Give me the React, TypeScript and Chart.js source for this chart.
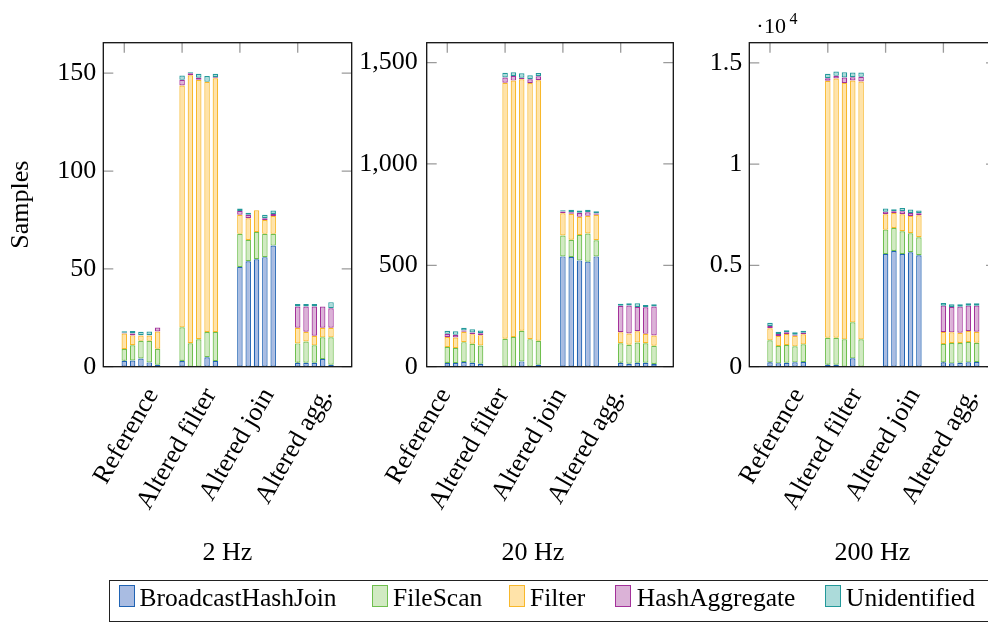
import React, { useEffect, useRef } from "react";
import { Chart, registerables } from "chart.js";

Chart.register(...registerables);

const FONT_FAMILY = '"Liberation Serif", "Times New Roman", serif';

// ---------------- data ----------------
const categories = ["Reference", "Altered filter", "Altered join", "Altered agg."];
const segmentNames = ["BroadcastHashJoin", "FileScan", "Filter", "HashAggregate", "Unidentified"];
const panelTitles = ["2 Hz", "20 Hz", "200 Hz"];

// each array: [category][run 1..5]
const hz2BroadcastHashJoin = [[3, 3.2, 4.2, 2.2, 1], [2.9, 0, 0, 4.8, 2.9], [51, 53.9, 54.9, 56, 61.9], [2, 2, 2, 3.9, 1]];
const hz2FileScan = [[6, 7.8, 9, 11, 8.2], [17.2, 12, 14, 12.9, 14.8], [16.9, 10.9, 14, 11.9, 6], [9.9, 10.9, 8.9, 11.1, 14]];
const hz2Filter = [[8, 5, 2.7, 2.7, 8.8], [123.6, 137, 132.7, 127.9, 129.7], [9.8, 11.1, 11, 7.1, 9.1], [8, 5, 4.9, 4.9, 4.9]];
const hz2HashAggregate = [[0.3, 1, 0.2, 0.2, 2], [2.9, 1, 1, 0, 0.6], [1.9, 1.8, 0, 0.9, 1.1], [10.9, 12.9, 15, 10.9, 10]];
const hz2Unidentified = [[0.8, 1.2, 1.8, 1.9, 0], [2.2, 0.5, 2, 3, 1.7], [1.2, 1, 0, 1.8, 1.7], [1.2, 1.2, 1.2, 0, 3.1]];

const hz20BroadcastHashJoin = [[18, 18, 23, 19.7, 14.7], [0, 0, 26.2, 0, 9.8], [544, 540.8, 524.4, 518, 544], [19.7, 14.7, 19.7, 19.7, 13]];
const hz20FileScan = [[78.7, 73.8, 98, 93.3, 90.2], [137.7, 146, 150.8, 136, 118], [103, 85.2, 124.6, 139, 80], [96.3, 93.3, 99.9, 96.3, 90]];
const hz20Filter = [[49.2, 52.2, 51, 47.6, 50.8], [1263, 1265, 1240.6, 1263.5, 1284.8], [110, 127.8, 90, 87, 125], [54, 56, 55.4, 46, 51]];
const hz20HashAggregate = [[16.1, 13, 6.6, 8.2, 9.8], [26, 23, 8.1, 18, 19.7], [8, 8.2, 19.8, 18, 6.5], [130, 137.5, 120, 131, 142.6]];
const hz20Unidentified = [[15, 18, 13.1, 16.2, 13.1], [23, 18, 21.3, 19.7, 16.4], [6.9, 11.5, 11.5, 11.5, 11.5], [11, 11.5, 18, 11.8, 11.4]];

const hz200BroadcastHashJoin = [[214, 165, 198, 214, 231], [99, 99, 0, 412, 0], [5567, 5715, 5567, 5649, 5501], [214, 165, 198, 214, 231]];
const hz200FileScan = [[1087, 856, 872, 791, 872], [1334, 1334, 1351, 1779, 1351], [1202, 1137, 1120, 939, 889], [906, 1004, 971, 1005, 955]];
const hz200Filter = [[593, 494, 544, 527, 495], [12682, 12797, 12665, 11940, 12731], [758, 741, 840, 856, 1087], [593, 527, 511, 543, 543]];
const hz200HashAggregate = [[115, 99, 82, 49, 82], [132, 132, 264, 165, 231], [131, 82, 148, 149, 99], [1301, 1252, 1285, 1252, 1285]];
const hz200Unidentified = [[165, 115, 99, 115, 99], [214, 214, 263, 231, 214], [149, 99, 165, 164, 132], [132, 132, 115, 115, 115]];

const yTicks2Hz = [0, 50, 100, 150];
const yTickLabels2Hz = ["0", "50", "100", "150"];
const yTicks20Hz = [0, 500, 1000, 1500];
const yTickLabels20Hz = ["0", "500", "1,000", "1,500"];
const yTicks200Hz = [0, 5000, 10000, 15000];
const yTickLabels200Hz = ["0", "0.5", "1", "1.5"];
const xTickPositions = [0, 1, 2, 3];
const runCount = 5;

const panelData = [
  [hz2BroadcastHashJoin, hz2FileScan, hz2Filter, hz2HashAggregate, hz2Unidentified],
  [hz20BroadcastHashJoin, hz20FileScan, hz20Filter, hz20HashAggregate, hz20Unidentified],
  [hz200BroadcastHashJoin, hz200FileScan, hz200Filter, hz200HashAggregate, hz200Unidentified],
];
const panelYTicks = [yTicks2Hz, yTicks20Hz, yTicks200Hz];
const panelYTickLabels = [yTickLabels2Hz, yTickLabels20Hz, yTickLabels200Hz];

// ---------------- styles / layout ----------------
const STROKE = ["#2063b3", "#6fbf4e", "#f8b82b", "#a3319a", "#23999a"];
const FILL = ["#a9bce2", "#d1eac2", "#ffe3a9", "#dbb2d7", "#acdbda"];

const CANVAS_W = 1040;
const CANVAS_H = 580;
const PLOT_TOP = 42.7;
const PLOT_BOTTOM = 366.7;
const XAXIS_BOTTOM = 566.8;
const GROUP_SHIFT = 0.288;
const TICK_LEN = 10;
const FONT_SIZE = 26;

const panelLayouts = [
  { left: 103.3, right: 351.7, xMin: -0.363, xMax: 3.934, yMax: 165.6, labelShift: 0.495, tickPad: 7, titleX: 227.5, yAxisWidth: 103.3 },
  { left: 426.7, right: 673.3, xMin: -0.356, xMax: 3.91, yMax: 1598, labelShift: -0.035, tickPad: 9, titleX: 533, yAxisWidth: 100 },
  { left: 749.3, right: 996, xMin: -0.358, xMax: 3.91, yMax: 16000, labelShift: 0.5, tickPad: 7, titleX: 872.5, yAxisWidth: 100 },
];

const legendBoxX = [118.7, 371.8, 508.8, 615, 824.8];
const legendTextX = [139.6, 393, 530, 636.8, 846];

function makeFramePlugin(idx: number) {
  const lay = panelLayouts[idx];
  return {
    id: "frame" + idx,
    beforeDatasetsDraw(chart: any) {
      const { ctx, chartArea: a } = chart;
      const xs = chart.scales.x;
      const ys = chart.scales.y;
      ctx.save();
      ctx.strokeStyle = "#9b9b9b";
      ctx.lineWidth = 1.3;
      ctx.beginPath();
      for (const v of xTickPositions) {
        const p = xs.getPixelForValue(v);
        ctx.moveTo(p, a.top);
        ctx.lineTo(p, a.top + TICK_LEN);
        ctx.moveTo(p, a.bottom);
        ctx.lineTo(p, a.bottom - TICK_LEN);
      }
      for (const v of panelYTicks[idx]) {
        const p = ys.getPixelForValue(v);
        ctx.moveTo(a.left, p);
        ctx.lineTo(a.left + TICK_LEN, p);
        ctx.moveTo(a.right, p);
        ctx.lineTo(a.right - TICK_LEN, p);
      }
      ctx.stroke();
      ctx.restore();
    },
    afterDraw(chart: any) {
      const { ctx, chartArea: a } = chart;
      ctx.save();
      ctx.strokeStyle = "#111";
      ctx.lineWidth = 1.3;
      ctx.strokeRect(a.left, a.top, a.right - a.left, a.bottom - a.top);
      ctx.fillStyle = "#000";
      ctx.textBaseline = "alphabetic";
      ctx.textAlign = "center";
      ctx.font = `${FONT_SIZE}px ${FONT_FAMILY}`;
      ctx.fillText(panelTitles[idx], lay.titleX, 560);
      if (idx === 2) {
        ctx.font = `22px ${FONT_FAMILY}`;
        ctx.textAlign = "center";
        ctx.fillText("\u00B7", 760, 32.7);
        ctx.textAlign = "left";
        ctx.fillText("10", 764, 32.7);
        ctx.font = `16px ${FONT_FAMILY}`;
        ctx.fillText("4", 789.5, 23.5);
      }
      ctx.restore();
    },
  };
}

function buildChart(canvas: HTMLCanvasElement, idx: number) {
  const lay = panelLayouts[idx];
  const data = panelData[idx];
  const datasets: any[] = [];
  for (let r = 0; r < runCount; r++) {
    for (let s = 0; s < segmentNames.length; s++) {
      datasets.push({
        label: segmentNames[s],
        stack: "run" + r,
        data: categories.map((_, g) => ({ x: g + GROUP_SHIFT, y: data[s][g][r] })),
        backgroundColor: FILL[s],
        borderColor: STROKE[s],
        borderWidth: 1.2,
        borderSkipped: false,
        categoryPercentage: 0.72,
        barPercentage: 0.66,
      });
    }
  }
  const font = { family: FONT_FAMILY, size: FONT_SIZE };
  return new Chart(canvas, {
    type: "bar",
    data: { datasets },
    plugins: [makeFramePlugin(idx)],
    options: {
      responsive: false,
      animation: false,
      events: [],
      layout: {
        padding: {
          left: lay.left - lay.yAxisWidth,
          right: CANVAS_W - lay.right,
          top: PLOT_TOP,
          bottom: CANVAS_H - XAXIS_BOTTOM,
        },
      },
      plugins: { legend: { display: false }, tooltip: { enabled: false }, title: { display: false } },
      scales: {
        x: {
          type: "linear",
          min: lay.xMin,
          max: lay.xMax,
          offset: false,
          grid: { display: false, drawTicks: false },
          border: { display: false },
          afterBuildTicks: (s: any) => {
            s.ticks = xTickPositions.map((v) => ({ value: v + lay.labelShift }));
          },
          ticks: {
            autoSkip: false,
            minRotation: 60,
            maxRotation: 60,
            padding: 16,
            color: "#000",
            font,
            callback: (_v: any, i: number) => categories[i],
          },
          afterFit: (s: any) => {
            s.height = XAXIS_BOTTOM - PLOT_BOTTOM;
          },
        },
        y: {
          type: "linear",
          stacked: true,
          min: 0,
          max: lay.yMax,
          grid: { display: false, drawTicks: false },
          border: { display: false },
          afterBuildTicks: (s: any) => {
            s.ticks = panelYTicks[idx].map((v) => ({ value: v }));
          },
          ticks: {
            padding: lay.tickPad,
            color: "#000",
            font,
            callback: (_v: any, i: number) => panelYTickLabels[idx][i],
          },
          title: {
            display: idx === 0,
            text: "Samples",
            color: "#000",
            font,
            padding: { top: 6, bottom: 0 },
          },
          afterFit: (s: any) => {
            s.width = lay.yAxisWidth;
          },
        },
      },
    } as any,
  });
}

function PanelChart({ idx }: { idx: number }) {
  const ref = useRef<HTMLCanvasElement | null>(null);
  useEffect(() => {
    if (!ref.current) return;
    const chart = buildChart(ref.current, idx);
    return () => chart.destroy();
  }, [idx]);
  return (
    <canvas
      ref={ref}
      width={CANVAS_W}
      height={CANVAS_H}
      style={{ position: "absolute", left: 0, top: 0, width: CANVAS_W, height: CANVAS_H }}
    />
  );
}

function Legend() {
  return (
    <div>
      <div
        style={{
          position: "absolute",
          left: 108.5,
          top: 580,
          width: 900,
          height: 42,
          border: "1px solid #222",
          boxSizing: "border-box",
        }}
      />
      {segmentNames.map((name, i) => (
        <React.Fragment key={name}>
          <div
            style={{
              position: "absolute",
              left: legendBoxX[i],
              top: 585,
              width: 16.3,
              height: 21.7,
              background: FILL[i],
              border: `1.2px solid ${STROKE[i]}`,
              boxSizing: "border-box",
            }}
          />
          <div
            style={{
              position: "absolute",
              left: legendTextX[i],
              top: 585.3,
              fontFamily: FONT_FAMILY,
              fontSize: 25.5,
              lineHeight: "25.5px",
              color: "#000",
              whiteSpace: "nowrap",
            }}
          >
            {name}
          </div>
        </React.Fragment>
      ))}
    </div>
  );
}

export default function App() {
  return (
    <div
      style={{
        position: "absolute",
        left: 0,
        top: 0,
        width: 988,
        height: 622,
        overflow: "hidden",
        background: "#fff",
      }}
    >
      <PanelChart idx={0} />
      <PanelChart idx={1} />
      <PanelChart idx={2} />
      <Legend />
    </div>
  );
}
